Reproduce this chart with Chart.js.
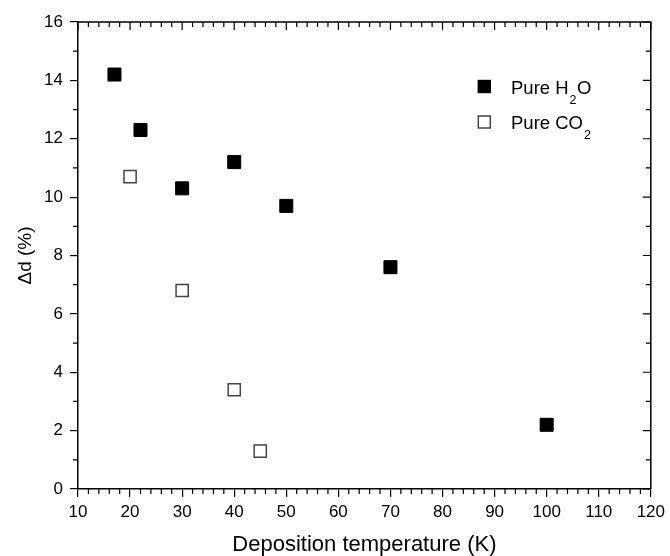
<!DOCTYPE html>
<html>
<head>
<meta charset="utf-8">
<script src="https://cdn.jsdelivr.net/npm/chart.js@4.4.1/dist/chart.umd.min.js"></script>
<style>
html,body{margin:0;padding:0;background:#fff;}
#wrap{width:670px;height:556px;}
</style>
</head>
<body>
<div id="wrap"><canvas id="c" width="670" height="556"></canvas></div>
<script>
const h2oTemps = [17, 22, 30, 40, 50, 70, 100];
const h2oValues = [14.2, 12.3, 10.3, 11.2, 9.7, 7.6, 2.2];
const co2Temps = [20, 30, 40, 45];
const co2Values = [10.7, 6.8, 3.4, 1.3];
const xTicks = [10, 20, 30, 40, 50, 60, 70, 80, 90, 100, 110, 120];
const yTicks = [0, 2, 4, 6, 8, 10, 12, 14, 16];
const legendLabels = [["Pure H", "2", "O"], ["Pure CO", "2", ""]];

const FONT = "Arial, 'Liberation Sans', sans-serif";

const framePlugin = {
  id: 'frame',
  afterDraw(chart) {
    const ctx = chart.ctx;
    const a = chart.chartArea;
    const xs = chart.scales.x, ys = chart.scales.y;
    ctx.save();
    ctx.strokeStyle = '#000';
    ctx.lineWidth = 1.5;
    ctx.beginPath();
    ctx.moveTo(a.left, a.top); ctx.lineTo(a.right, a.top); ctx.lineTo(a.right, a.bottom);
    ctx.stroke();
    ctx.lineWidth = 1.2;
    ctx.beginPath();
    for (let v = xs.min; v <= xs.max + 1e-9; v += 2) {
      const px = xs.getPixelForValue(v);
      const major = Math.abs(v % 10) < 1e-9;
      const len = major ? 8 : 5;
      ctx.moveTo(px, a.top); ctx.lineTo(px, a.top + len);
      if (!major) { ctx.moveTo(px, a.bottom); ctx.lineTo(px, a.bottom + len); }
    }
    for (let v = ys.min; v <= ys.max + 1e-9; v += 1) {
      const py = ys.getPixelForValue(v);
      const major = Math.abs(v % 2) < 1e-9;
      const len = major ? 8 : 5;
      ctx.moveTo(a.right, py); ctx.lineTo(a.right - len, py);
      if (!major) { ctx.moveTo(a.left, py); ctx.lineTo(a.left - len, py); }
    }
    ctx.stroke();
    // legend
    const lx = 484.3, rows = [86.5, 122], baselines = [93.5, 129];
    ctx.textBaseline = 'alphabetic';
    rows.forEach((ry, i) => {
      if (i === 0) {
        ctx.fillStyle = '#000';
        ctx.fillRect(lx - 6.7, ry - 6.7, 13.4, 13.4);
      } else {
        ctx.fillStyle = '#fff';
        ctx.fillRect(lx - 6.7, ry - 6.7, 13.4, 13.4);
        ctx.strokeStyle = '#444';
        ctx.lineWidth = 1.5;
        ctx.strokeRect(lx - 6, ry - 6, 12, 12);
      }
      const parts = legendLabels[i];
      let tx = 511;
      const by = baselines[i];
      ctx.fillStyle = '#000';
      ctx.font = '18.5px ' + FONT;
      ctx.fillText(parts[0], tx, by);
      tx += ctx.measureText(parts[0]).width + 1;
      ctx.font = '12.5px ' + FONT;
      ctx.fillText(parts[1], tx, by + 10);
      tx += ctx.measureText(parts[1]).width + 0.5;
      ctx.font = '18.5px ' + FONT;
      if (parts[2]) ctx.fillText(parts[2], tx, by);
    });
    ctx.restore();
  }
};

new Chart(document.getElementById('c'), {
  type: 'scatter',
  data: {
    datasets: [
      {
        label: 'Pure H2O',
        data: h2oTemps.map((t, i) => ({x: t, y: h2oValues[i]})),
        pointStyle: 'rect',
        pointRadius: 9.2,
        backgroundColor: '#000',
        borderColor: '#000',
        borderWidth: 1
      },
      {
        label: 'Pure CO2',
        data: co2Temps.map((t, i) => ({x: t, y: co2Values[i]})),
        pointStyle: 'rect',
        pointRadius: 8.6,
        backgroundColor: '#fff',
        borderColor: '#444',
        borderWidth: 1.5
      }
    ]
  },
  options: {
    responsive: false,
    animation: false,
    devicePixelRatio: 1,
    layout: {padding: {top: 22, right: 17, left: 0, bottom: 0}},
    plugins: {legend: {display: false}, tooltip: {enabled: false}},
    scales: {
      x: {
        type: 'linear', min: 10, max: 120,
        afterBuildTicks(s) { s.ticks = xTicks.map(v => ({value: v})); },
        afterFit(s) { s.height = 67; },
        grid: {display: true, drawOnChartArea: false, drawTicks: true, tickLength: 8, color: '#000', lineWidth: 1.2},
        border: {display: true, color: '#000', width: 1.5},
        ticks: {color: '#000', font: {size: 17, family: FONT}, padding: 5, maxRotation: 0},
        title: {display: true, text: 'Deposition temperature (K)', color: '#000', font: {size: 22, family: FONT}, padding: {top: 0, bottom: -2}}
      },
      y: {
        type: 'linear', min: 0, max: 16,
        afterBuildTicks(s) { s.ticks = yTicks.map(v => ({value: v})); },
        afterFit(s) { s.width = 78; },
        grid: {display: true, drawOnChartArea: false, drawTicks: true, tickLength: 8, color: '#000', lineWidth: 1.2},
        border: {display: true, color: '#000', width: 1.5},
        ticks: {color: '#000', font: {size: 17, family: FONT}, padding: 7},
        title: {display: true, text: 'Δd (%)', color: '#000', font: {size: 19, family: FONT}, padding: 14}
      }
    }
  },
  plugins: [framePlugin]
});
</script>
</body>
</html>
